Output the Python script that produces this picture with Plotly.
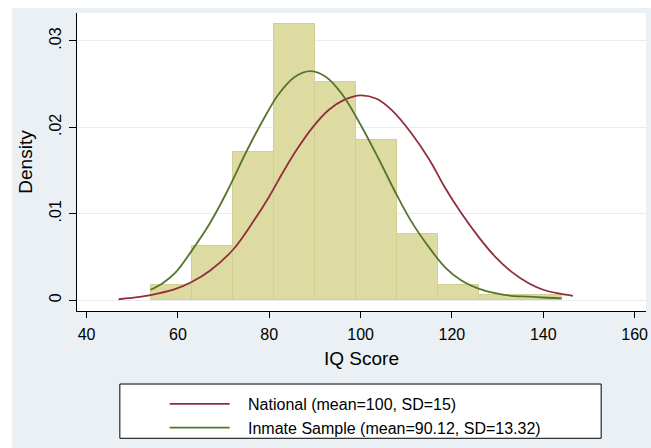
import plotly.graph_objects as go

# ---- data ----
bin_starts = [54, 63, 72, 81, 90, 99, 108, 117, 126, 135]
bin_density = [0.0018, 0.0063, 0.0172, 0.0320, 0.0253, 0.0185, 0.0076, 0.0018, 0.0006, 0.0006]

national_x = [47, 52, 56, 59.5, 63, 67, 72, 76, 80, 83, 86, 89.5, 93, 96.5, 100,
              103.5, 107, 111, 115, 118.5, 122, 126, 129.5, 133, 137, 140, 143, 146.5]
national_y = [0.0001, 0.0004, 0.0008, 0.0013, 0.0021, 0.0034, 0.0058, 0.0087, 0.0120, 0.0148,
              0.0174, 0.0200, 0.0220, 0.0232, 0.0237, 0.0233, 0.0219, 0.0194, 0.0163, 0.0130,
              0.0101, 0.0072, 0.0050, 0.0033, 0.0019, 0.0012, 0.0008, 0.0005]

inmate_x = [54, 56.5, 59.5, 63, 67, 71, 75, 78.5, 82, 85.5, 89, 92.5, 96, 100,
            104, 107.5, 111, 115, 118.5, 122, 126, 129.5, 133, 137, 140, 144]
inmate_y = [0.0012, 0.0019, 0.0032, 0.0057, 0.0089, 0.0128, 0.0172, 0.0207, 0.0238, 0.0258,
            0.0265, 0.0258, 0.0238, 0.0203, 0.0163, 0.0126, 0.0092, 0.0061, 0.0038, 0.0023,
            0.0013, 0.0008, 0.0005, 0.0004, 0.0003, 0.0002]

series_names = ["National (mean=100, SD=15)", "Inmate Sample (mean=90.12, SD=13.32)"]
x_ticks = [40, 60, 80, 100, 120, 140, 160]
y_ticks = [0, 0.01, 0.02, 0.03]
y_tick_text = ["0", ".01", ".02", ".03"]
x_title = "IQ Score"
y_title = "Density"

# ---- styles ----
FONT = "Liberation Sans, Arial, Helvetica, sans-serif"
BG = "#EAF0F3"
RED = "#922E3C"
GREEN = "#55752F"

fig = go.Figure()
fig.add_trace(go.Bar(
    x=bin_starts, y=bin_density, offset=0, width=9,
    marker=dict(color="#DEDBA2", line=dict(color="#D2CE94", width=1)),
    showlegend=False, hoverinfo="skip"))
fig.add_trace(go.Scatter(
    x=national_x, y=national_y, mode="lines", name="\u00a0\u00a0\u00a0" + series_names[0],
    line=dict(color=RED, width=1.8, shape="spline", smoothing=1.0)))
fig.add_trace(go.Scatter(
    x=inmate_x, y=inmate_y, mode="lines", name="\u00a0\u00a0\u00a0" + series_names[1],
    line=dict(color=GREEN, width=1.8, shape="spline", smoothing=1.0)))

W, H = 651, 448
L, R, T, B = 77, 3, 13, 133
pw, ph = W - L - R, H - T - B

def px(xp):
    return (xp - L) / pw

def py(yp):
    return (H - B - yp) / ph

shapes = [
    # white strips at top-left outside the graph region
    dict(type="rect", xref="paper", yref="paper", x0=px(-5), x1=px(12), y0=py(460), y1=py(-5),
         fillcolor="white", line=dict(width=0), layer="below"),
    dict(type="rect", xref="paper", yref="paper", x0=px(-5), x1=px(660), y0=py(8), y1=py(-5),
         fillcolor="white", line=dict(width=0), layer="below"),
    # legend box
    dict(type="rect", xref="paper", yref="paper", x0=px(120), x1=px(603), y0=py(444), y1=py(389),
         fillcolor="white", line=dict(color="black", width=1), layer="below"),
]

fig.update_layout(
    width=W, height=H,
    margin=dict(l=L, r=R, t=T, b=B, pad=0),
    paper_bgcolor=BG, plot_bgcolor="white",
    font=dict(family=FONT, size=16, color="black"),
    bargap=0,
    shapes=shapes,
    showlegend=True,
    legend=dict(x=px(165), y=py(392), xanchor="left", yanchor="top",
                bgcolor="rgba(0,0,0,0)", borderwidth=0, itemwidth=60,
                font=dict(family=FONT, size=16, color="black"),
                tracegroupgap=0),
    xaxis=dict(range=[37.9, 162.5], tickvals=x_ticks, ticks="outside", ticklen=6,
               tickcolor="black", tickwidth=1.2, showline=True, linecolor="black", linewidth=1.2,
               showgrid=False, zeroline=False, ticklabelstandoff=3,
               tickfont=dict(family=FONT, size=16, color="black"),
               title=dict(text=x_title, font=dict(family=FONT, size=19, color="black"), standoff=9)),
    yaxis=dict(range=[-0.00126, 0.03323], tickvals=y_ticks, ticktext=y_tick_text, tickangle=-90,
               ticks="outside", ticklen=7, tickcolor="black", tickwidth=1.2,
               showline=True, linecolor="black", linewidth=1.2, ticklabelstandoff=2,
               showgrid=True, gridcolor="#E6EEF1", gridwidth=1, zeroline=False,
               tickfont=dict(family=FONT, size=16, color="black"),
               title=dict(text=y_title, font=dict(family=FONT, size=19, color="black"), standoff=8)),
)

fig.write_html("out.html", config={"displayModeBar": False},
               post_script="document.body.style.margin='0';")
